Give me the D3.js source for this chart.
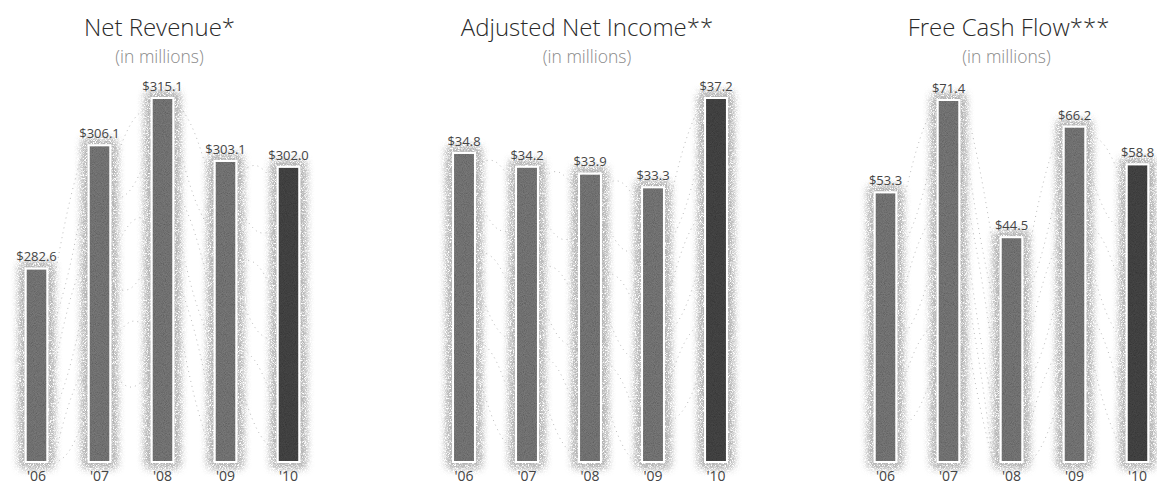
<!DOCTYPE html>
<html lang="en">
<head>
  <meta charset="UTF-8">
  <title>Financial Highlights</title>
  <script src="https://d3js.org/d3.v7.min.js"></script>
  <style>
    body {
      margin: 0;
      background: #fff;
      font-family: "Open Sans", sans-serif;
    }
    .title { font-size: 24px; fill: #2a2a2a; font-weight: 300; }
    .sub { font-size: 17.5px; fill: #8a8a8a; font-weight: 300; }
    .val { font-size: 13px; fill: #444; font-family: "Liberation Sans Narrow", "Open Sans", sans-serif; }
    .yr { font-size: 14px; fill: #444; }
  </style>
</head>
<body>
  <svg width="1157" height="485"></svg>

  <script>
    const years = ["'06", "'07", "'08", "'09", "'10"];

    const revenue = [282.6, 306.1, 315.1, 303.1, 302.0];
    const income = [34.8, 34.2, 33.9, 33.3, 37.2];
    const cashFlow = [53.3, 71.4, 44.5, 66.2, 58.8];

    const titles = ["Net Revenue*", "Adjusted Net Income**", "Free Cash Flow***"];

    const panels = [
      { title: titles[0], values: revenue, x0: 5, x1: 320, yMin: 245.3, top: 97 },
      { title: titles[1], values: income, x0: 432.5, x1: 747.5, yMin: 21.2, top: 97 },
      { title: titles[2], values: cashFlow, x0: 854, x1: 1169, yMin: 0, top: 99 }
    ];

    const svg = d3.select("svg");
    const base = 463;

    const defs = svg.append("defs");

    // grainy look for the bars
    const grain = defs.append("filter").attr("id", "grain")
      .attr("x", "-10%").attr("y", "-10%").attr("width", "120%").attr("height", "120%");
    grain.append("feTurbulence").attr("type", "fractalNoise")
      .attr("baseFrequency", 1.1).attr("numOctaves", 1).attr("seed", 3).attr("result", "noise");
    grain.append("feColorMatrix").attr("in", "noise").attr("type", "saturate").attr("values", 0).attr("result", "gnoise");
    grain.append("feBlend").attr("in", "SourceGraphic").attr("in2", "gnoise").attr("mode", "multiply").attr("result", "mix");
    grain.append("feComposite").attr("in", "mix").attr("in2", "SourceGraphic").attr("operator", "in");

    // soft speckled halo
    const glow = defs.append("filter").attr("id", "glow")
      .attr("x", "-80%").attr("y", "-20%").attr("width", "260%").attr("height", "140%");
    glow.append("feGaussianBlur").attr("in", "SourceGraphic").attr("stdDeviation", 4.5).attr("result", "blur");
    glow.append("feTurbulence").attr("type", "fractalNoise")
      .attr("baseFrequency", 1.4).attr("numOctaves", 1).attr("seed", 7).attr("result", "noise");
    glow.append("feColorMatrix").attr("in", "noise").attr("type", "matrix")
      .attr("values", "0 0 0 0 0.45  0 0 0 0 0.45  0 0 0 0 0.45  0 0 0 3 -0.9").attr("result", "dots");
    glow.append("feComposite").attr("in", "dots").attr("in2", "blur").attr("operator", "in").attr("result", "sp");
    const gm = glow.append("feMerge");
    gm.append("feMergeNode").attr("in", "sp");
    gm.append("feMergeNode").attr("in", "sp");
    gm.append("feMergeNode").attr("in", "sp");

    panels.forEach((p, pi) => {
      const g = svg.append("g");

      const x = d3.scaleBand()
        .domain(years)
        .range([p.x0, p.x1])
        .paddingInner(0.62)
        .paddingOuter(0.31);

      const y = d3.scaleLinear()
        .domain([p.yMin, d3.max(p.values)])
        .range([base, p.top]);

      const cx = (p.x0 + p.x1) / 2 - 3;

      g.append("text").attr("class", "title")
        .attr("x", cx).attr("y", 36)
        .attr("text-anchor", "middle")
        .text(p.title);

      g.append("text").attr("class", "sub")
        .attr("x", cx + (pi === 2 ? -2 : 0)).attr("y", 63)
        .attr("text-anchor", "middle")
        .text("(in millions)");

      // faint dotted threads between neighbouring bars
      const line = d3.line().curve(d3.curveBasis);
      for (let i = 0; i < years.length - 1; i++) {
        const xa = x(years[i]) + x.bandwidth() + 6;
        const xb = x(years[i + 1]) - 6;
        const ya = y(p.values[i]);
        const yb = y(p.values[i + 1]);
        for (let k = 0; k < 6; k++) {
          const off = k * 45 + 10;
          const y1 = Math.min(base, ya + off);
          const y2 = Math.min(base, yb + off * 1.2);
          const mid = (xa + xb) / 2;
          g.append("path")
            .attr("d", line([[xa, y1], [mid, (y1 + y2) / 2 + (k % 2 ? 12 : -12)], [xb, y2]]))
            .attr("fill", "none")
            .attr("stroke", "#bdbdbd")
            .attr("stroke-width", 1)
            .attr("stroke-dasharray", "1 4");
        }
      }

      const bars = g.selectAll(".bar")
        .data(p.values)
        .enter().append("g");

      bars.append("rect")
        .attr("x", (d, i) => x(years[i]) - 4)
        .attr("y", d => y(d) - 4)
        .attr("width", x.bandwidth() + 8)
        .attr("height", d => base - y(d) + 8)
        .attr("fill", "#777")
        .attr("filter", "url(#glow)");

      bars.append("rect")
        .attr("x", (d, i) => x(years[i]))
        .attr("y", d => y(d))
        .attr("width", x.bandwidth())
        .attr("height", d => base - y(d))
        .attr("fill", "#fff");

      bars.append("rect")
        .attr("x", (d, i) => x(years[i]) + 2)
        .attr("y", d => y(d) + 2)
        .attr("width", x.bandwidth() - 4)
        .attr("height", d => base - y(d) - 4)
        .attr("fill", (d, i) => i === years.length - 1 ? "#4a4a4a" : "#808080")
        .attr("filter", "url(#grain)");

      bars.append("text").attr("class", "val")
        .attr("x", (d, i) => x(years[i]) + x.bandwidth() / 2)
        .attr("y", d => y(d) - 6)
        .attr("text-anchor", "middle")
        .text(d => "$" + d.toFixed(1));

      g.selectAll(".yr")
        .data(years)
        .enter().append("text").attr("class", "yr")
        .attr("x", d => x(d) + x.bandwidth() / 2)
        .attr("y", 481)
        .attr("text-anchor", "middle")
        .text(d => d);
    });
  </script>
</body>
</html>
